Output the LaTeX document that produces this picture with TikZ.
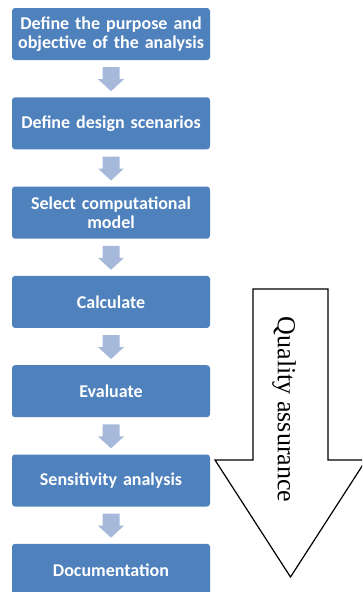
\documentclass[tikz,border=0pt]{standalone}
\usepackage{fontspec}
\setmainfont{Liberation Serif}
\newfontfamily\boxfont{Carlito}
\definecolor{boxblue}{HTML}{4F81BD}
\definecolor{arrowblue}{HTML}{A7B9DA}
\begin{document}
\begin{tikzpicture}[x=1pt,y=-1pt,
  stepbox/.style={fill=boxblue, rounded corners=3pt, minimum width=198pt, minimum height=52pt,
    inner sep=0pt, text width=196pt, align=center, text=white,
    font=\boxfont\bfseries\fontsize{18}{19.5}\selectfont},
  smallarrow/.style={fill=arrowblue, draw=none}]
\clip (0,0) rectangle (362,592);
\useasboundingbox (0,0) rectangle (362,592);
% big arrow
\draw[line width=1.2pt, fill=white, line join=miter]
  (253,289) -- (328,289) -- (328,460) -- (366,460) -- (290.5,577) -- (215,460) -- (253,460) -- cycle;
\node[rotate=-90, font=\fontsize{26}{30}\selectfont, inner sep=0pt] (qa) at (284,409.5) {Quality assurance};
% boxes
\node[stepbox] (b1) at (111,34) {Define the purpose and\\objective of the analysis};
\node[stepbox] (b2) at (111,123.3) {Define design scenarios};
\node[stepbox] (b3) at (111,212.6) {Select computational\\model};
\node[stepbox] (b4) at (111,301.9) {Calculate};
\node[stepbox] (b5) at (111,391.2) {Evaluate};
\node[stepbox] (b6) at (111,480.5) {Sensitivity analysis};
\node[stepbox] (b7) at (111,569.8) {Documentation};
% small arrows
\foreach \a/\b in {b1/b2,b2/b3,b3/b4,b4/b5,b5/b6,b6/b7}{
  \fill[smallarrow] ([shift={(-8.5,7)}]\a.south) -- ([shift={(8.5,7)}]\a.south)
     -- ([shift={(8.5,19)}]\a.south) -- ([shift={(13,19)}]\a.south)
     -- ([shift={(0,31)}]\a.south) -- ([shift={(-13,19)}]\a.south)
     -- ([shift={(-8.5,19)}]\a.south) -- cycle;
}
\end{tikzpicture}
\end{document}
